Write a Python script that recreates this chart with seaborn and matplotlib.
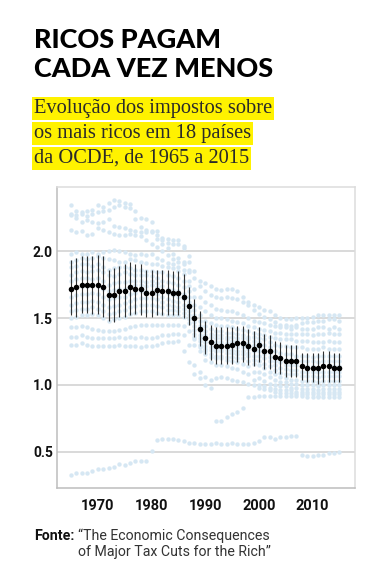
import numpy as np
import pandas as pd
import matplotlib
matplotlib.use("Agg")
import matplotlib.pyplot as plt
import seaborn as sns

# ---------------- data ----------------
years = list(range(1965, 2016))

c01 = [2.34,2.30,2.29,2.30,2.31,2.34,2.33,2.36,2.38,2.37,
       2.36,2.35,2.30,2.25,2.24,2.22,2.15,2.10,2.09,2.08,
       2.08,2.04,1.96,1.85,1.78,1.76,1.74,1.72,1.71,1.72,
       1.72,1.70,1.66,1.62,1.60,1.58,1.56,1.55,1.52,1.50,
       1.49,1.49,1.50,1.50,1.50,1.51,1.52,1.52,1.52,1.52,
       1.52]
c02 = [2.28,2.27,2.28,2.26,2.28,2.29,2.30,2.31,2.33,2.34,
       2.33,2.32,2.24,2.18,2.16,2.15,2.12,2.08,2.06,2.05,
       2.05,2.02,1.92,1.80,1.74,1.70,1.67,1.66,1.65,1.66,
       1.65,1.64,1.62,1.60,1.56,1.53,1.51,1.49,1.47,1.45,
       1.45,1.44,1.45,1.46,1.47,1.47,1.48,1.48,1.49,1.49,
       1.48]
c03 = [2.27,2.25,2.22,2.23,2.22,2.21,2.22,2.24,2.19,2.18,
       2.17,2.16,2.15,2.14,2.14,2.14,2.09,2.05,2.02,1.98,
       1.95,1.92,1.86,1.72,1.66,1.62,1.60,1.57,1.56,1.55,
       1.55,1.54,1.52,1.50,1.48,1.47,1.46,1.45,1.44,1.43,
       1.43,1.42,1.43,1.42,1.42,1.42,1.43,1.43,1.42,1.43,
       1.42]
c04 = [2.16,2.14,2.15,2.12,2.13,2.17,2.16,2.14,2.13,2.12,
       2.12,2.13,2.12,2.11,2.08,2.05,2.03,2.00,1.97,1.94,
       1.92,1.90,1.84,1.66,1.58,1.55,1.52,1.50,1.50,1.49,
       1.48,1.47,1.46,1.44,1.43,1.42,1.41,1.40,1.39,1.39,
       1.38,1.38,1.38,1.38,1.38,1.37,1.38,1.38,1.39,1.38,
       1.38]
c05 = [1.98,1.99,1.98,1.98,1.99,1.98,1.99,2.00,2.01,2.00,
       1.99,1.98,1.97,1.98,1.97,1.98,1.95,1.93,1.91,1.90,
       1.88,1.86,1.78,1.60,1.52,1.48,1.46,1.45,1.44,1.44,
       1.43,1.42,1.41,1.40,1.39,1.38,1.37,1.36,1.35,1.34,
       1.34,1.34,1.33,1.33,1.33,1.32,1.32,1.32,1.33,1.32,
       1.32]
c06 = [1.92,1.93,1.95,1.94,1.95,1.96,1.95,1.94,1.93,1.92,
       1.92,1.94,1.93,1.92,1.91,1.90,1.90,1.89,1.88,1.87,
       1.85,1.83,1.74,1.56,1.48,1.44,1.42,1.40,1.40,1.39,
       1.39,1.38,1.37,1.36,1.36,1.35,1.34,1.32,1.30,1.29,
       1.29,1.28,1.28,1.28,1.27,1.27,1.27,1.28,1.27,1.27,
       1.27]
c07 = [1.88,1.89,1.90,1.90,1.89,1.90,1.88,1.86,1.87,1.88,
       1.88,1.87,1.86,1.86,1.85,1.85,1.84,1.84,1.82,1.81,
       1.80,1.78,1.70,1.52,1.44,1.40,1.38,1.37,1.37,1.36,
       1.36,1.35,1.35,1.34,1.33,1.32,1.30,1.28,1.25,1.24,
       1.23,1.23,1.22,1.22,1.22,1.21,1.22,1.22,1.22,1.22,
       1.22]
c08 = [1.82,1.84,1.85,1.84,1.85,1.86,1.84,1.82,1.81,1.83,
       1.84,1.83,1.82,1.82,1.82,1.81,1.80,1.78,1.77,1.76,
       1.75,1.73,1.66,1.49,1.42,1.37,1.36,1.35,1.35,1.34,
       1.33,1.33,1.32,1.31,1.30,1.28,1.26,1.24,1.21,1.20,
       1.19,1.19,1.18,1.18,1.18,1.18,1.17,1.18,1.18,1.18,
       1.18]
c09 = [1.78,1.79,1.80,1.80,1.79,1.80,1.78,1.75,1.76,1.77,
       1.77,1.78,1.78,1.78,1.77,1.78,1.76,1.74,1.72,1.71,
       1.70,1.68,1.62,1.47,1.40,1.34,1.33,1.32,1.32,1.31,
       1.31,1.30,1.30,1.29,1.28,1.25,1.23,1.21,1.18,1.17,
       1.15,1.15,1.15,1.14,1.14,1.14,1.13,1.14,1.14,1.14,
       1.14]
c10 = [1.72,1.73,1.74,1.74,1.75,1.74,1.72,1.70,1.71,1.72,
       1.72,1.74,1.75,1.75,1.74,1.75,1.73,1.70,1.69,1.67,
       1.66,1.64,1.58,1.44,1.37,1.32,1.31,1.30,1.30,1.29,
       1.29,1.28,1.28,1.27,1.25,1.22,1.20,1.18,1.15,1.13,
       1.12,1.11,1.11,1.10,1.10,1.10,1.10,1.10,1.10,1.10,
       1.10]
c11 = [1.66,1.67,1.68,1.68,1.69,1.68,1.66,1.64,1.65,1.66,
       1.66,1.68,1.69,1.70,1.70,1.70,1.68,1.66,1.64,1.63,
       1.62,1.60,1.55,1.41,1.35,1.29,1.28,1.27,1.27,1.26,
       1.26,1.25,1.25,1.24,1.22,1.18,1.16,1.14,1.11,1.09,
       1.08,1.08,1.08,1.07,1.07,1.07,1.06,1.07,1.07,1.07,
       1.07]
c12 = [1.60,1.61,1.62,1.62,1.63,1.62,1.60,1.58,1.59,1.60,
       1.61,1.63,1.64,1.65,1.65,1.65,1.64,1.62,1.60,1.59,
       1.58,1.57,1.52,1.38,1.33,1.27,1.26,1.25,1.25,1.24,
       1.24,1.23,1.23,1.22,1.19,1.15,1.13,1.10,1.08,1.06,
       1.05,1.04,1.04,1.03,1.03,1.03,1.02,1.03,1.03,1.03,
       1.03]
c13 = [1.55,1.56,1.57,1.57,1.58,1.57,1.55,1.53,1.54,1.55,
       1.56,1.58,1.59,1.60,1.60,1.60,1.59,1.58,1.56,1.56,
       1.55,1.54,1.49,1.36,1.30,1.25,1.23,1.22,1.22,1.21,
       1.21,1.20,1.20,1.18,1.16,1.10,1.08,1.06,1.04,1.02,
       1.02,1.01,1.01,1.00,1.00,1.00,0.99,1.00,1.00,1.00,
       1.00]
c14 = [1.50,1.51,1.52,1.52,1.53,1.52,1.50,1.48,1.49,1.50,
       1.51,1.53,1.54,1.55,1.55,1.55,1.54,1.53,1.52,1.52,
       1.52,1.51,1.46,1.34,1.28,1.23,1.21,1.20,1.20,1.19,
       1.18,1.17,1.16,1.14,1.10,1.05,1.03,1.01,1.00,0.99,
       0.99,0.98,0.98,0.97,0.97,0.97,0.96,0.97,0.97,0.97,
       0.97]
c15 = [1.43,1.43,1.44,1.43,1.42,1.41,1.40,1.40,1.40,1.41,
       1.42,1.43,1.44,1.45,1.45,1.45,1.45,1.45,1.45,1.45,
       1.45,1.44,1.40,1.30,1.25,1.19,1.17,1.15,1.15,1.14,
       1.13,1.12,1.10,1.08,1.04,1.00,0.99,0.98,0.97,0.96,
       0.96,0.96,0.95,0.95,0.95,0.95,0.94,0.95,0.95,0.95,
       0.95]
c16 = [1.36,1.36,1.37,1.36,1.35,1.35,1.35,1.35,1.35,1.36,
       1.35,1.36,1.35,1.36,1.35,1.35,1.36,1.37,1.37,1.38,
       1.38,1.37,1.30,1.15,1.10,1.06,1.04,1.05,1.06,1.05,
       1.04,1.03,1.02,1.01,1.00,0.98,0.97,0.96,0.95,0.94,
       0.94,0.94,0.93,0.93,0.93,0.93,0.92,0.93,0.93,0.93,
       0.93]
c17 = [1.30,1.30,1.31,1.30,1.29,1.29,1.29,1.29,1.29,1.30,
       1.29,1.29,1.29,1.28,1.29,1.29,1.30,1.31,1.32,1.32,
       1.33,1.25,1.17,1.08,1.05,1.00,0.98,0.73,0.73,0.76,
       0.78,0.80,0.83,0.91,0.91,0.92,0.92,0.92,0.92,0.92,
       0.92,0.92,0.92,0.92,0.91,0.91,0.91,0.91,0.91,0.91,
       0.91]
c18 = [0.33,0.34,0.34,0.34,0.36,0.37,0.37,0.38,0.39,0.41,
       0.40,0.42,0.43,0.43,0.43,0.51,0.59,0.60,0.60,0.60,
       0.59,0.58,0.57,0.57,0.56,0.56,0.56,0.57,0.56,0.56,
       0.57,0.56,0.56,0.56,0.57,0.58,0.61,0.61,0.60,0.61,
       0.61,0.62,0.62,0.48,0.47,0.47,0.48,0.48,0.49,0.49,
       0.50]
countries = [c01, c02, c03, c04, c05, c06, c07, c08, c09,
             c10, c11, c12, c13, c14, c15, c16, c17, c18]

mean_vals = [1.72,1.73,1.75,1.75,1.75,1.75,1.73,1.67,1.67,1.70,
             1.70,1.73,1.72,1.72,1.69,1.69,1.71,1.70,1.70,1.69,
             1.69,1.66,1.59,1.50,1.42,1.35,1.32,1.29,1.29,1.29,
             1.30,1.31,1.31,1.29,1.27,1.30,1.25,1.25,1.21,1.20,
             1.18,1.18,1.18,1.14,1.13,1.13,1.13,1.14,1.14,1.13,
             1.13]
ci_high = [1.93,1.95,1.96,1.96,1.96,1.97,1.96,1.86,1.87,1.89,
           1.90,1.92,1.90,1.90,1.86,1.86,1.86,1.86,1.86,1.85,
           1.85,1.83,1.73,1.64,1.55,1.48,1.45,1.43,1.43,1.43,
           1.43,1.44,1.44,1.42,1.40,1.43,1.38,1.37,1.33,1.32,
           1.30,1.30,1.30,1.24,1.24,1.24,1.24,1.25,1.25,1.24,
           1.24]
ci_low = [1.52,1.51,1.54,1.54,1.53,1.53,1.51,1.48,1.47,1.51,
          1.51,1.52,1.53,1.52,1.51,1.51,1.52,1.52,1.52,1.52,
          1.52,1.50,1.45,1.36,1.29,1.23,1.19,1.16,1.16,1.16,
          1.16,1.17,1.17,1.15,1.14,1.17,1.12,1.12,1.09,1.08,
          1.06,1.06,1.06,1.04,1.02,1.02,1.01,1.02,1.02,1.02,
          1.02]

y_ticks = [0.5, 1.0, 1.5, 2.0]
y_ticklabels = ["0.5", "1.0", "1.5", "2.0"]
x_ticks = [1970, 1980, 1990, 2000, 2010]

title_lines = ["RICOS PAGAM", "CADA VEZ MENOS"]
subtitle_lines = ["Evolução dos impostos sobre",
                  "os mais ricos em 18 países",
                  "da OCDE, de 1965 a 2015"]
source_label = "Fonte:"
source_lines = ["\u201cThe Economic Consequences",
                "of Major Tax Cuts for the Rich\u201d"]

# ---------------- frames ----------------
cloud = pd.DataFrame({
    "year": np.tile(years, len(countries)),
    "value": np.concatenate([np.array(c) for c in countries]),
    "country": np.repeat(np.arange(len(countries)), len(years)),
})
summary = pd.DataFrame({"year": years, "mean": mean_vals,
                        "lo": ci_low, "hi": ci_high})

# ---------------- plot ----------------
sns.set_theme(style="white")
plt.rcParams["font.family"] = ["Roboto", "DejaVu Sans"]

W, H = 373, 579
fig = plt.figure(figsize=(W / 100, H / 100), dpi=100)
ax = fig.add_axes([57 / W, 1 - 488 / H, (355 - 57) / W, (488 - 187) / H])

for yv in y_ticks:
    ax.axhline(yv, color="#cfcfcf", lw=1.1, zorder=0)

sns.scatterplot(data=cloud, x="year", y="value", ax=ax, color="#d6e7f3",
                s=10, linewidth=0, legend=False, zorder=1)
ax.vlines(summary["year"], summary["lo"], summary["hi"],
          color="#333333", lw=0.8, zorder=2)
sns.scatterplot(data=summary, x="year", y="mean", ax=ax, color="black",
                s=16, linewidth=0, legend=False, zorder=3)

ax.set_xlim(1962.4, 2017.9)
ax.set_ylim(0.231, 2.478)
ax.set_xlabel("")
ax.set_ylabel("")
ax.set_yticks(y_ticks)
ax.set_yticklabels(y_ticklabels, fontweight="bold", fontsize=10,
                   color="#111111")
ax.set_xticks(x_ticks)
ax.set_xticklabels([str(x) for x in x_ticks], fontweight="bold",
                   fontsize=10.5, color="#111111")
ax.tick_params(axis="y", length=0, pad=3)
ax.tick_params(axis="x", direction="in", length=4, width=1,
               color="#bdbdbd", pad=8)
for side in ["top", "right"]:
    ax.spines[side].set_color("#dcdcdc")
    ax.spines[side].set_linewidth(1.1)
for side in ["left", "bottom"]:
    ax.spines[side].set_color("#bdbdbd")
    ax.spines[side].set_linewidth(1.1)

# ---------------- texts ----------------
for i, line in enumerate(title_lines):
    fig.text(34 / W, 1 - (48 + 29 * i) / H, line, fontsize=19.5,
             fontweight="black", family=["Lato", "Roboto", "DejaVu Sans"],
             va="baseline", ha="left", color="black")

for i, line in enumerate(subtitle_lines):
    fig.text(34 / W, 1 - (113 + 25 * i) / H, line, fontsize=14.7,
             family=["Liberation Serif", "DejaVu Serif"], color="#2a2a2a",
             va="baseline", ha="left",
             bbox=dict(boxstyle="square,pad=0.08", fc="#fff200", ec="none"))

fig.text(34 / W, 1 - 540 / H, source_label, fontsize=10.2, fontweight="bold",
         va="baseline", ha="left", color="#111111")
for i, line in enumerate(source_lines):
    fig.text(78 / W, 1 - (540 + 16 * i) / H, line, fontsize=10.2,
             fontweight="normal", va="baseline", ha="left", color="#333333")

fig.savefig("out.png", dpi=100)
